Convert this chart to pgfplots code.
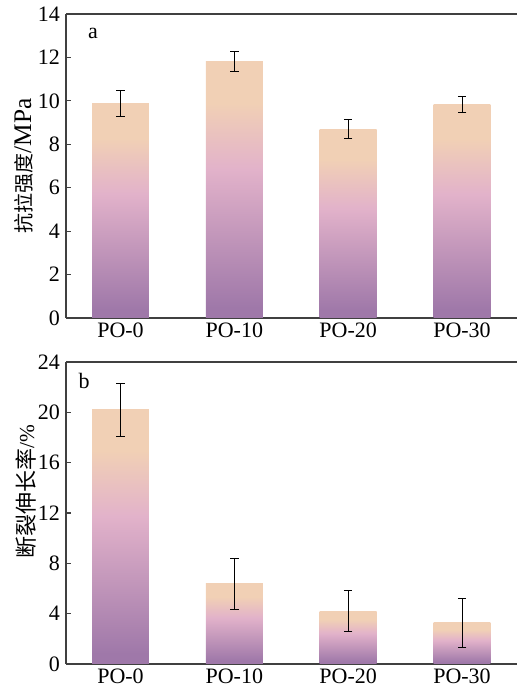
\documentclass[border=0pt]{standalone}
\usepackage{fontspec}
\setmainfont{Liberation Serif}
\newfontfamily\cjk{Noto Sans CJK SC}
\usepackage{pgfplots}
\pgfplotsset{compat=1.18}

\definecolor{barpurple}{HTML}{9F78A9}
\definecolor{barpink}{HTML}{E2B2CA}
\definecolor{barpeach}{HTML}{F1D0B5}
\definecolor{axisgray}{HTML}{404040}
\pgfdeclareverticalshading{barshade}{100bp}{color(0bp)=(barpurple); color(27bp)=(barpurple); color(54bp)=(barpink); color(67bp)=(barpeach); color(100bp)=(barpeach)}

\pgfplotsset{
  panel/.style={
    scale only axis,
    width=338.25pt,
    xmin=-0.479, xmax=3.483,
    ymin=0,
    axis x line*=box,
    axis y line*=left,
    xtick={0,1,2,3},
    xticklabels={PO-0,PO-10,PO-20,PO-30},
    xtick pos=left,
    ytick pos=left,
    tick align=inside,
    major tick length=3.75pt,
    axis line style={axisgray, line width=1pt},
    every tick/.style={axisgray, line width=0.8pt},
    /pgf/number format/assume math mode=true,
    yticklabel style={font=\fontsize{16.5}{19}\selectfont, xshift=-1pt},
    xticklabel style={font=\fontsize{16.5}{19}\selectfont},
    clip=false,
  },
  % one \addplot per bar, so that every bar gets its own gradient
  barplot/.style={
    ybar, bar width=0.5, bar shift=0pt,
    draw=none, shade, shading=barshade,
    error bars/.cd, y dir=both, y explicit,
    error bar style={black, line width=0.75pt},
    error mark options={rotate=90, mark size=3.2pt, black, line width=0.75pt},
  },
}

\begin{document}
\begin{tikzpicture}
\useasboundingbox (0,0) rectangle (387.75pt,519pt);

\begin{axis}[panel,
  at={(49.5pt,280.5pt)}, anchor=south west,
  height=228pt,
  ymax=14, ytick={0,2,...,14},
  ylabel={{\cjk\fontsize{15}{18}\selectfont 抗拉强度}{\fontsize{19}{21}\selectfont /MPa}},
  ylabel style={at={(axis description cs:-0.094,0.5)}, anchor=center},
]
\addplot[barplot] coordinates {(0,9.86) +- (0,0.60)};
\addplot[barplot] coordinates {(1,11.79) +- (0,0.46)};
\addplot[barplot] coordinates {(2,8.70) +- (0,0.45)};
\addplot[barplot] coordinates {(3,9.82) +- (0,0.37)};
\node[font=\fontsize{16.5}{18}\selectfont] at (rel axis cs:0.06,0.9375) {a};
\end{axis}

\begin{axis}[panel,
  at={(49.5pt,21pt)}, anchor=south west,
  height=226.5pt,
  ymax=24, ytick={0,4,...,24},
  ylabel={{\cjk\fontsize{16.5}{19}\selectfont 断裂伸长率}{\fontsize{16}{19}\selectfont /\%}},
  ylabel style={at={(axis description cs:-0.089,0.57)}, anchor=center},
]
\addplot[barplot] coordinates {(0,20.2) +- (0,2.1)};
\addplot[barplot] coordinates {(1,6.36) +- (0,2.0)};
\addplot[barplot] coordinates {(2,4.21) +- (0,1.62)};
\addplot[barplot] coordinates {(3,3.26) +- (0,1.96)};
\node[font=\fontsize{16.5}{18}\selectfont] at (rel axis cs:0.04,0.937) {b};
\end{axis}
\end{tikzpicture}
\end{document}
